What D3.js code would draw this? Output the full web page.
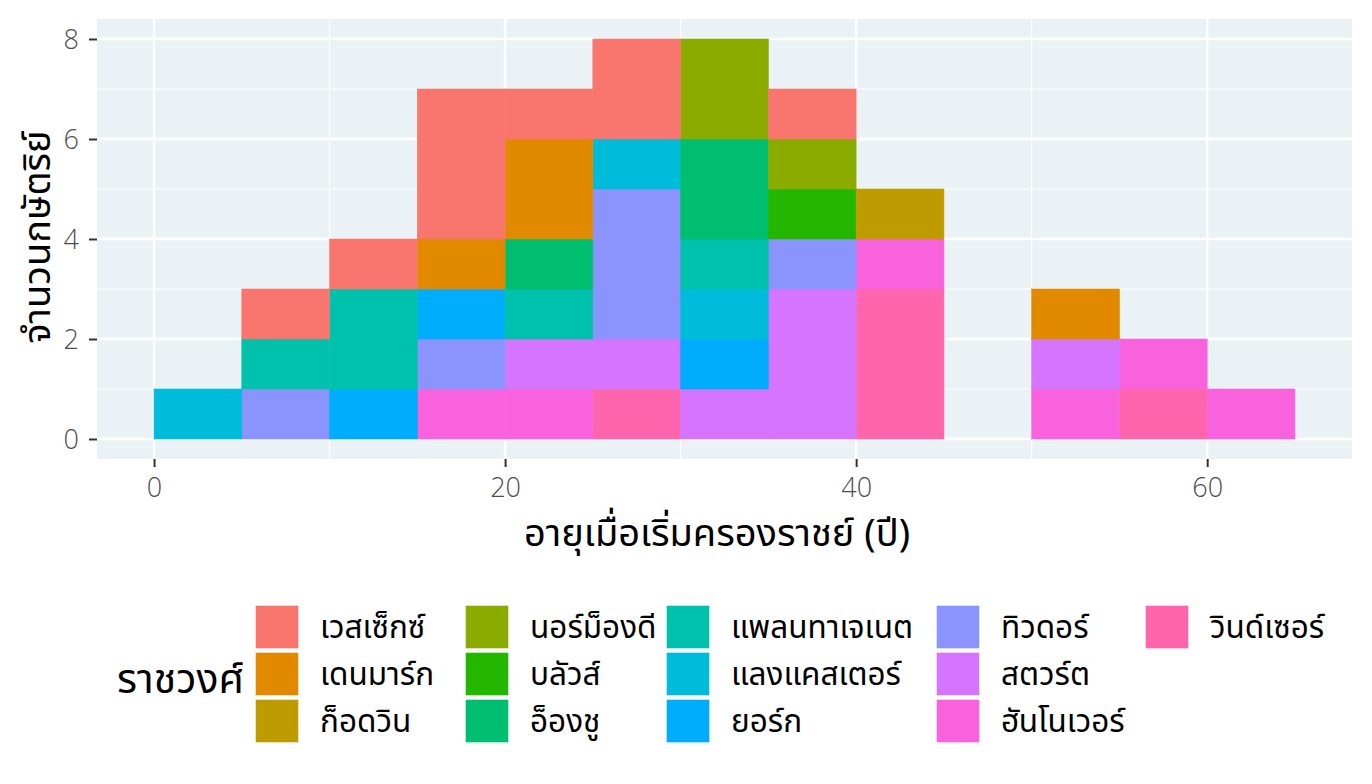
<!DOCTYPE html>
<html><head><meta charset="utf-8">
<script src="https://cdn.jsdelivr.net/npm/d3@7"></script>
<style>body{margin:0;background:#fff;} text{font-family:"Noto Sans","Noto Sans Thai","Open Sans",sans-serif;}</style>
</head><body><svg id="c" width="1372" height="784"></svg>
<script>
const dynasties = ["เวสเซ็กซ์","เดนมาร์ก","ก็อดวิน","นอร์ม็องดี","บลัวส์","อ็องชู","แพลนทาเจเนต","แลงแคสเตอร์","ยอร์ก","ทิวดอร์","สตวร์ต","ฮันโนเวอร์","วินด์เซอร์"];
const colors = ["#F8766D","#E18A00","#BE9C00","#8CAB00","#24B700","#00BE70","#00C1AB","#00BBDA","#00ACFC","#8B93FF","#D575FE","#F962DD","#FF65AC"];
const binStarts = [0,5,10,15,20,25,30,35,40,45,50,55,60];
// counts per dynasty for each bin (same order as binStarts)
const counts = {
 "เวสเซ็กซ์":   [0,1,1,3,1,2,0,1,0,0,0,0,0],
 "เดนมาร์ก":    [0,0,0,1,2,0,0,0,0,0,1,0,0],
 "ก็อดวิน":     [0,0,0,0,0,0,0,0,1,0,0,0,0],
 "นอร์ม็องดี":  [0,0,0,0,0,0,2,1,0,0,0,0,0],
 "บลัวส์":      [0,0,0,0,0,0,0,1,0,0,0,0,0],
 "อ็องชู":      [0,0,0,0,1,0,2,0,0,0,0,0,0],
 "แพลนทาเจเนต": [0,1,2,0,1,0,1,0,0,0,0,0,0],
 "แลงแคสเตอร์": [1,0,0,0,0,1,1,0,0,0,0,0,0],
 "ยอร์ก":       [0,0,1,1,0,0,1,0,0,0,0,0,0],
 "ทิวดอร์":     [0,1,0,1,0,3,0,1,0,0,0,0,0],
 "สตวร์ต":      [0,0,0,0,1,1,1,3,0,0,1,0,0],
 "ฮันโนเวอร์":  [0,0,0,1,1,0,0,0,1,0,1,1,1],
 "วินด์เซอร์":  [0,0,0,0,0,1,0,0,3,0,0,1,0]
};
const xTicks = [0,20,40,60];
const yTicks = [0,2,4,6,8];
const binWidth = 5;

const svg = d3.select("#c");
const L=97,R=1352,T=19,B=459;
const x = d3.scaleLinear().domain([-3.25,68.25]).range([L,R]);
const y = d3.scaleLinear().domain([-0.4,8.4]).range([B,T]);
const color = d3.scaleOrdinal().domain(dynasties).range(colors);

svg.append("rect").attr("x",L).attr("y",T).attr("width",R-L).attr("height",B-T).attr("fill","#EBF2F5");
const g = svg.append("g");
[10,30,50].forEach(v=>g.append("line").attr("x1",x(v)).attr("x2",x(v)).attr("y1",T).attr("y2",B).attr("stroke","#fff").attr("stroke-width",1.2));
[1,3,5,7].forEach(v=>g.append("line").attr("y1",y(v)).attr("y2",y(v)).attr("x1",L).attr("x2",R).attr("stroke","#fff").attr("stroke-width",1.2));
xTicks.forEach(v=>g.append("line").attr("x1",x(v)).attr("x2",x(v)).attr("y1",T).attr("y2",B).attr("stroke","#fff").attr("stroke-width",2.4));
yTicks.forEach(v=>g.append("line").attr("y1",y(v)).attr("y2",y(v)).attr("x1",L).attr("x2",R).attr("stroke","#fff").attr("stroke-width",2.4));

// stacked: last level at bottom
const rows = binStarts.map((b,i)=>{const o={bin:b}; dynasties.forEach(d=>o[d]=counts[d][i]); return o;});
const stack = d3.stack().keys(dynasties.slice().reverse());
const series = stack(rows);
series.forEach(s=>{
  svg.append("g").selectAll("rect").data(s.filter(d=>d[1]>d[0])).join("rect")
    .attr("x",d=>x(d.data.bin)).attr("width",d=>x(d.data.bin+binWidth)-x(d.data.bin))
    .attr("y",d=>y(d[1])).attr("height",d=>y(d[0])-y(d[1]))
    .attr("fill",color(s.key)).attr("stroke",color(s.key)).attr("stroke-width",0.6);
});

// axes
const xa = svg.append("g").attr("transform",`translate(0,${B})`).call(d3.axisBottom(x).tickValues(xTicks).tickSize(8).tickPadding(10));
const ya = svg.append("g").attr("transform",`translate(${L},0)`).call(d3.axisLeft(y).tickValues(yTicks).tickSize(8).tickPadding(10));
[xa,ya].forEach(a=>{a.select(".domain").remove(); a.selectAll("line").attr("stroke","#333").attr("stroke-width",2);
  a.selectAll("text").attr("fill","#4D4D4D").style("font-size","27px").style("font-family","'Open Sans','Noto Sans',sans-serif").style("font-weight","300");});
xa.selectAll("text").attr("dy","0.74em");
ya.selectAll("text").attr("dy","0.36em");

svg.append("text").attr("x",717).attr("y",546).attr("text-anchor","middle").style("font-size","38px").attr("fill","#000").text("อายุเมื่อเริ่มครองราชย์ (ปี)");
svg.append("text").attr("transform",`translate(50,${(T+B)/2 - 2}) rotate(-90)`).attr("text-anchor","middle").style("font-size","38px").attr("fill","#000").text("จำนวนกษัตริย์");

// legend
const colX=[256,466,667,937,1146], rowY=[606,653,700];
svg.append("text").attr("x",117).attr("y",693).style("font-size","41px").attr("fill","#000").text("ราชวงศ์");
dynasties.forEach((d,i)=>{
  const c=Math.floor(i/3), r=i%3;
  svg.append("rect").attr("x",colX[c]).attr("y",rowY[r]).attr("width",42).attr("height",42).attr("fill",color(d)).attr("stroke",color(d)).attr("stroke-width",0.6);
  svg.append("text").attr("x",colX[c]+64).attr("y",rowY[r]+32).style("font-size","31.5px").attr("fill","#000").text(d);
});
</script></body></html>
